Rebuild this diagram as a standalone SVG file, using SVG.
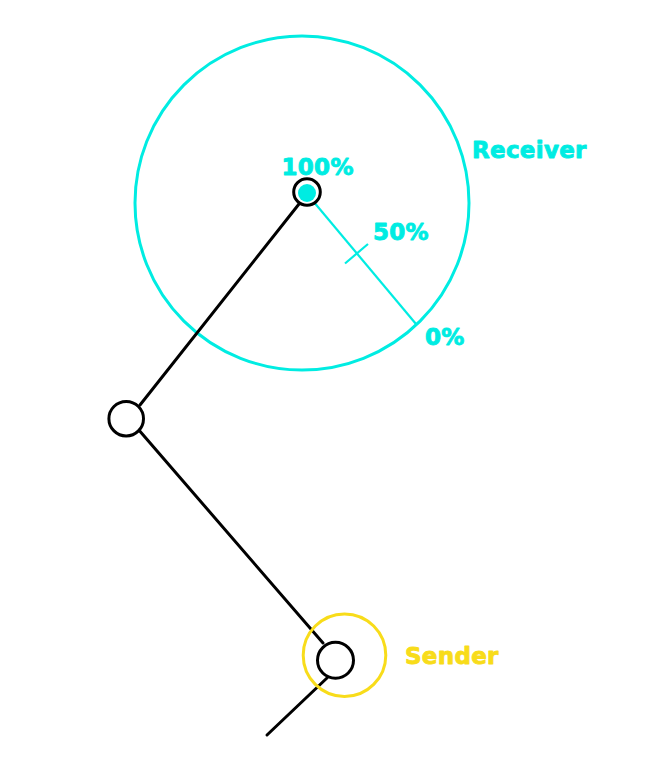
<svg xmlns="http://www.w3.org/2000/svg" width="670" height="779" viewBox="0 0 670 779">
<style>
.lbl{font-family:"DejaVu Sans",Verdana,sans-serif;font-weight:bold;font-size:23px;letter-spacing:0.3px;stroke-width:0.9px;stroke-linejoin:round}
.cy{fill:#00ece2;stroke:#00ece2}
.ye{fill:#f8dc1a;stroke:#f8dc1a}
.link{stroke:#000;stroke-width:3;fill:none;stroke-linecap:round}
.joint{stroke:#000;stroke-width:3;fill:#fff}
</style>
<rect width="670" height="779" fill="#fff"/>
<g id="receiver">
<circle cx="302" cy="203" r="167" fill="none" stroke="#00ece2" stroke-width="3"/>
<text class="lbl cy" x="472" y="157.5">Receiver</text>
</g>
<g id="connectors">
<line class="link" x1="299" y1="204" x2="140" y2="405"/>
<line class="link" x1="138" y1="429" x2="323" y2="643"/>
<line class="link" x1="327" y1="678" x2="267" y2="735"/>
</g>
<g id="gradient">
<line x1="313" y1="201" x2="416" y2="324" stroke="#00ece2" stroke-width="2.2"/>
<line x1="345" y1="263.5" x2="368" y2="244" stroke="#00ece2" stroke-width="2.2"/>
<text class="lbl cy" x="373" y="239.5">50%</text>
<text class="lbl cy" x="425" y="345">0%</text>
</g>
<g id="joint-top">
<circle class="joint" cx="307" cy="192" r="13.3"/>
<circle cx="307" cy="193" r="9" fill="#00ece2"/>
<text class="lbl cy" x="281.5" y="175">100%</text>
</g>
<g id="joint-middle">
<circle class="joint" cx="126.2" cy="418.7" r="17.3"/>
</g>
<g id="sender">
<circle cx="344.5" cy="655.2" r="41.3" fill="none" stroke="#f8dc1a" stroke-width="3"/>
<circle class="joint" cx="335.5" cy="660.3" r="18" fill="none"/>
<text class="lbl ye" x="405" y="663.5">Sender</text>
</g>
</svg>
